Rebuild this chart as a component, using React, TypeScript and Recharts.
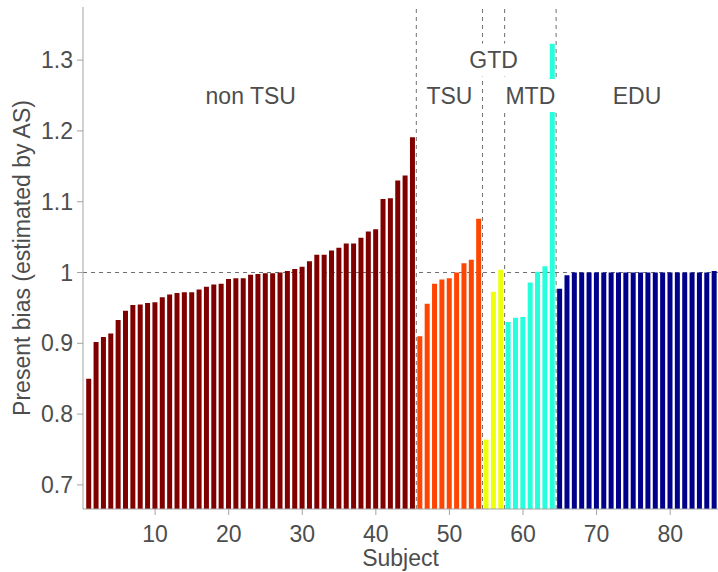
import { Bar, BarChart, Cell, Label, ReferenceDot, ReferenceLine, XAxis, YAxis } from "recharts";

// present bias per subject, sorted within each group
const nonTsu = [
  0.85, 0.902, 0.909, 0.914, 0.933, 0.946, 0.954, 0.955, 0.957, 0.958,
  0.965, 0.969, 0.971, 0.972, 0.972, 0.976, 0.98, 0.983, 0.984, 0.991,
  0.992, 0.992, 0.997, 0.998, 0.999, 0.999, 1.0, 1.002, 1.005, 1.008,
  1.016, 1.025, 1.025, 1.031, 1.035, 1.041, 1.041, 1.049, 1.058, 1.061,
  1.104, 1.105, 1.13, 1.137, 1.191,
];
const tsu = [0.91, 0.956, 0.984, 0.99, 0.992, 1.0, 1.013, 1.018, 1.076];
const gtd = [0.764, 0.973, 1.004];
const mtd = [0.93, 0.936, 0.937, 0.986, 1.001, 1.009, 1.323];
const edu = [
  0.977, 0.996, 1.0, 1.0, 1.0, 1.0, 1.0, 1.0, 1.0, 1.0, 1.0,
  1.0, 1.0, 1.0, 1.0, 1.0, 1.0, 1.0, 1.0, 1.0, 1.0, 1.002,
];

const yTicks = [0.7, 0.8, 0.9, 1, 1.1, 1.2, 1.3];
const xTicks = [10, 20, 30, 40, 50, 60, 70, 80];

const groups = [
  { name: "non TSU", values: nonTsu, color: "#800000", tagY: 1.25 },
  { name: "TSU", values: tsu, color: "#FF4500", tagY: 1.25 },
  { name: "GTD", values: gtd, color: "#EEFF0A", tagY: 1.3 },
  { name: "MTD", values: mtd, color: "#26FFDB", tagY: 1.25 },
  { name: "EDU", values: edu, color: "#00008B", tagY: 1.25 },
];

type Row = { subject: number; bias: number; color: string };

const rows: Row[] = [];
const spans: { name: string; first: number; last: number; tagY: number }[] = [];
for (const g of groups) {
  const first = rows.length + 1;
  g.values.forEach((v) => rows.push({ subject: rows.length + 1, bias: v, color: g.color }));
  spans.push({ name: g.name, first, last: rows.length, tagY: g.tagY });
}
// dashed separators between neighbouring groups
const bounds = spans.slice(0, -1).map((s) => s.last + 0.5);

const FONT = "'Liberation Sans', Arial, Helvetica, sans-serif";
const TEXT = "#4D4D4D";
const AXIS = "#A3A3A3";

function GroupTag(props: any) {
  const { cx, cy, text } = props;
  const w = text.length * 15 + 14;
  return (
    <g>
      <rect x={cx - w / 2} y={cy - 16.5} width={w} height={33} fill="#FFFFFF" />
      <text x={cx} y={cy} dy="0.36em" textAnchor="middle" fontSize={23} fill={TEXT} fontFamily={FONT}>
        {text}
      </text>
    </g>
  );
}

function YTitle(props: any) {
  const vb = props.viewBox || {};
  const cy = vb.y + vb.height / 2;
  return (
    <text
      x={22}
      y={cy}
      dy="0.36em"
      transform={`rotate(-90, 22, ${cy})`}
      textAnchor="middle"
      fontSize={23}
      fill={TEXT}
      fontFamily={FONT}
    >
      Present bias (estimated by AS)
    </text>
  );
}

export default function App() {
  return (
    <div style={{ width: 718, height: 572, fontFamily: FONT }}>
      <style>{"body{margin:0}"}</style>
      <BarChart width={718} height={572} data={rows} margin={{ top: 7, right: 0, bottom: 0, left: 0 }}>
        <XAxis
          type="number"
          dataKey="subject"
          domain={[0.2, 86.5]}
          ticks={xTicks}
          allowDataOverflow
          height={63}
          tickSize={6}
          tickMargin={11}
          stroke={AXIS}
          tick={{ fill: TEXT, fontSize: 23, fontFamily: FONT }}
        >
          <Label value="Subject" position="insideBottom" offset={6} fill={TEXT} fontSize={23} fontFamily={FONT} />
        </XAxis>
        <YAxis
          type="number"
          domain={[0.666, 1.375]}
          ticks={yTicks}
          allowDataOverflow
          width={83}
          tickSize={6}
          tickMargin={4}
          stroke={AXIS}
          tick={{ fill: TEXT, fontSize: 23, fontFamily: FONT }}
        >
          <Label content={<YTitle />} />
        </YAxis>
        <ReferenceLine y={1} stroke="#707070" strokeDasharray="4 4" zIndex={100} />
        {bounds.map((b) => (
          <ReferenceLine key={b} x={b} stroke="#707070" strokeDasharray="4 4" zIndex={100} />
        ))}
        <Bar dataKey="bias" barSize={5} isAnimationActive={false}>
          {rows.map((r) => (
            <Cell key={r.subject} fill={r.color} />
          ))}
        </Bar>
        {spans.map((s) => (
          <ReferenceDot
            key={s.name}
            x={(s.first + s.last) / 2}
            y={s.tagY}
            r={0}
            zIndex={2500}
            shape={(p: any) => <GroupTag {...p} text={s.name} />}
          />
        ))}
      </BarChart>
    </div>
  );
}
